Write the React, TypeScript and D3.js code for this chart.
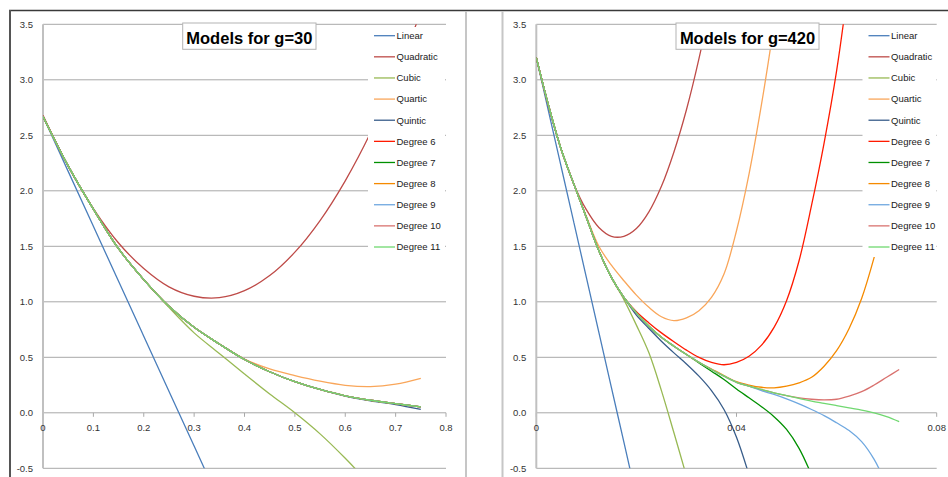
import React from 'react';
import * as d3 from 'd3';

const seriesNames = ['Linear', 'Quadratic', 'Cubic', 'Quartic', 'Quintic', 'Degree 6', 'Degree 7', 'Degree 8', 'Degree 9', 'Degree 10', 'Degree 11'];
const seriesColors = ['#4A7EBB', '#BE4B48', '#98B954', '#F9A65A', '#385D8A', '#FF1A00', '#009000', '#F58A00', '#6FA8E0', '#D9726F', '#70D870'];

const yTicks = [-0.5, 0, 0.5, 1, 1.5, 2, 2.5, 3, 3.5];
const yTickLabels = ['-0.5', '0.0', '0.5', '1.0', '1.5', '2.0', '2.5', '3.0', '3.5'];

const leftXTicks = [0, 0.1, 0.2, 0.3, 0.4, 0.5, 0.6, 0.7, 0.8];
const leftXTickLabels = ['0', '0.1', '0.2', '0.3', '0.4', '0.5', '0.6', '0.7', '0.8'];
const rightXTicks = [0, 0.04, 0.08];
const rightXTickLabels = ['0', '0.04', '0.08'];

// g = 30
const leftX = [0, 0.05, 0.1, 0.15, 0.2, 0.25, 0.3, 0.35, 0.4, 0.45, 0.5, 0.55, 0.6, 0.65, 0.7, 0.75];
const leftLinear = [2.67, 2.175, 1.68, 1.185, 0.69, 0.195, -0.3, -0.795];
const leftQuadratic = [2.68, 2.22, 1.84, 1.53, 1.3, 1.135, 1.05, 1.037, 1.1, 1.236, 1.447, 1.732, 2.09, 2.52, 3.03, 3.61];
const leftCubic = [2.67, 2.225, 1.835, 1.478, 1.2, 0.95, 0.72, 0.535, 0.35, 0.17, 0.0, -0.19, -0.41, -0.65];
const leftQuartic = [2.67, 2.225, 1.835, 1.478, 1.2, 0.96, 0.77, 0.62, 0.485, 0.395, 0.335, 0.285, 0.248, 0.236, 0.258, 0.31];
const leftQuintic = [2.67, 2.225, 1.835, 1.478, 1.2, 0.96, 0.77, 0.62, 0.48, 0.37, 0.28, 0.21, 0.15, 0.108, 0.073, 0.03];
const leftDeg6 = [2.67, 2.225, 1.835, 1.478, 1.2, 0.96, 0.77, 0.62, 0.48, 0.37, 0.28, 0.21, 0.153, 0.113, 0.082, 0.054];
const leftDeg7 = [2.67, 2.225, 1.835, 1.478, 1.2, 0.96, 0.77, 0.62, 0.48, 0.37, 0.28, 0.21, 0.153, 0.113, 0.082, 0.054];
const leftDeg8 = [2.67, 2.225, 1.835, 1.478, 1.2, 0.96, 0.77, 0.62, 0.48, 0.37, 0.28, 0.21, 0.153, 0.113, 0.082, 0.054];
const leftDeg9 = [2.67, 2.225, 1.835, 1.478, 1.2, 0.96, 0.77, 0.62, 0.48, 0.37, 0.28, 0.21, 0.153, 0.113, 0.082, 0.054];
const leftDeg10 = [2.67, 2.225, 1.835, 1.478, 1.2, 0.96, 0.77, 0.62, 0.48, 0.37, 0.28, 0.21, 0.153, 0.113, 0.082, 0.054];
const leftDeg11 = [2.67, 2.225, 1.835, 1.478, 1.2, 0.96, 0.77, 0.62, 0.48, 0.37, 0.28, 0.21, 0.153, 0.113, 0.082, 0.054];

// g = 420
const rightX = [0, 0.0025, 0.005, 0.0075, 0.01, 0.0125, 0.015, 0.0175, 0.02, 0.0225, 0.025, 0.0275, 0.03, 0.0325, 0.035, 0.0375, 0.04, 0.0425, 0.045, 0.0475, 0.05, 0.0525, 0.055, 0.0575, 0.06, 0.0625, 0.065, 0.0675, 0.07, 0.0725];
const rightLinear = [3.2, 2.705, 2.21, 1.715, 1.22, 0.725, 0.23, -0.265, -0.76];
const rightQuadratic = [3.2, 2.75, 2.37, 2.06, 1.83, 1.67, 1.59, 1.59, 1.66, 1.81, 2.04, 2.35, 2.73, 3.19, 3.73];
const rightCubic = [3.2, 2.76, 2.37, 2.06, 1.76, 1.46, 1.22, 1.02, 0.79, 0.54, 0.2, -0.18, -0.57];
const rightQuartic = [3.2, 2.76, 2.37, 2.06, 1.77, 1.5, 1.33, 1.19, 1.06, 0.95, 0.865, 0.83, 0.855, 0.92, 1.04, 1.25, 1.64, 2.15, 2.78, 3.5, 4.3];
const rightQuintic = [3.2, 2.76, 2.37, 2.06, 1.76, 1.46, 1.22, 1.04, 0.88, 0.76, 0.645, 0.54, 0.44, 0.33, 0.2, 0.03, -0.22, -0.56];
const rightDeg6 = [3.2, 2.76, 2.37, 2.06, 1.76, 1.46, 1.22, 1.04, 0.91, 0.81, 0.72, 0.64, 0.565, 0.5, 0.455, 0.433, 0.455, 0.51, 0.61, 0.77, 1.01, 1.37, 1.87, 2.43, 3.08, 3.9];
const rightDeg7 = [3.2, 2.76, 2.37, 2.06, 1.76, 1.46, 1.22, 1.04, 0.9, 0.78, 0.68, 0.6, 0.525, 0.45, 0.375, 0.3, 0.215, 0.135, 0.055, -0.035, -0.15, -0.32, -0.56];
const rightDeg8 = [3.2, 2.76, 2.37, 2.06, 1.76, 1.46, 1.22, 1.04, 0.9, 0.78, 0.68, 0.6, 0.525, 0.455, 0.395, 0.335, 0.28, 0.25, 0.23, 0.225, 0.24, 0.27, 0.32, 0.42, 0.56, 0.76, 1.03, 1.4, 1.85, 2.4];
const rightDeg9 = [3.2, 2.76, 2.37, 2.06, 1.76, 1.46, 1.22, 1.04, 0.9, 0.78, 0.68, 0.6, 0.525, 0.455, 0.39, 0.33, 0.275, 0.24, 0.2, 0.165, 0.125, 0.08, 0.03, -0.025, -0.09, -0.16, -0.26, -0.42, -0.65];
const rightDeg10 = [3.2, 2.76, 2.37, 2.06, 1.76, 1.46, 1.22, 1.04, 0.9, 0.78, 0.68, 0.6, 0.525, 0.455, 0.39, 0.33, 0.275, 0.24, 0.21, 0.18, 0.155, 0.135, 0.122, 0.116, 0.122, 0.15, 0.19, 0.25, 0.32, 0.39];
const rightDeg11 = [3.2, 2.76, 2.37, 2.06, 1.76, 1.46, 1.22, 1.04, 0.9, 0.78, 0.68, 0.6, 0.525, 0.455, 0.39, 0.33, 0.275, 0.24, 0.21, 0.18, 0.155, 0.13, 0.105, 0.085, 0.065, 0.045, 0.025, 0.0, -0.035, -0.08];

const leftSeries = [leftLinear, leftQuadratic, leftCubic, leftQuartic, leftQuintic, leftDeg6, leftDeg7, leftDeg8, leftDeg9, leftDeg10, leftDeg11];
const rightSeries = [rightLinear, rightQuadratic, rightCubic, rightQuartic, rightQuintic, rightDeg6, rightDeg7, rightDeg8, rightDeg9, rightDeg10, rightDeg11];

const FONT = "'Liberation Sans', Arial, sans-serif";
const Y_TOP = 24.3;
const Y_BOT = 468.3;

type PanelProps = {
  id: string;
  xs: number[];
  series: number[][];
  xDomain: [number, number];
  xRange: [number, number];
  xTicks: number[];
  xTickLabels: string[];
  title: string;
  titleBox: [number, number, number, number];
  legendBox: [number, number, number, number];
};

function Panel(p: PanelProps) {
  const x = d3.scaleLinear().domain(p.xDomain).range(p.xRange);
  const y = d3.scaleLinear().domain([-0.5, 3.5]).range([Y_BOT, Y_TOP]);
  const [x0, x1] = p.xRange;
  const line = d3
    .line<[number, number]>()
    .x((d) => x(d[0]))
    .y((d) => y(d[1]))
    .curve(d3.curveCatmullRom.alpha(0.5));
  const [lx, ly, lw, lh] = p.legendBox;
  const [tx, ty, tw, th] = p.titleBox;
  return (
    <g>
      <defs>
        <clipPath id={p.id}>
          <rect x={x0} y={Y_TOP} width={x1 - x0} height={Y_BOT - Y_TOP} />
        </clipPath>
      </defs>
      {yTicks.map((t) => (
        <line key={'g' + t} x1={x0} x2={x1} y1={y(t)} y2={y(t)} stroke="#A8A8A8" strokeWidth={1} />
      ))}
      {p.xTicks.map((t) => (
        <line key={'t' + t} x1={x(t)} x2={x(t)} y1={y(0)} y2={y(0) + 4} stroke="#A8A8A8" strokeWidth={1} />
      ))}
      <line x1={x0} x2={x0} y1={Y_TOP} y2={Y_BOT} stroke="#C0C0C0" strokeWidth={2} />
      {yTicks.map((t, i) => (
        <text key={'yl' + t} x={x0 - 10} y={y(t)} dy="0.35em" textAnchor="end" fontSize={9.5} fill="#333" fontFamily={FONT}>
          {yTickLabels[i]}
        </text>
      ))}
      <g clipPath={`url(#${p.id})`}>
        {p.series.map((s, i) => {
          const pts: [number, number][] = s.map((v, j) => [p.xs[j], v]);
          return <path key={'s' + i} d={line(pts) || ''} fill="none" stroke={seriesColors[i]} strokeWidth={1.3} />;
        })}
      </g>
      {p.xTicks.map((t, i) => (
        <text key={'xl' + t} x={x(t)} y={430.5} textAnchor="middle" fontSize={9.5} fill="#333" fontFamily={FONT}>
          {p.xTickLabels[i]}
        </text>
      ))}
      <rect x={lx} y={ly} width={lw} height={lh} fill="#fff" />
      {seriesNames.map((n, i) => {
        const cy = ly + 8.7 + i * 21.13;
        return (
          <g key={'lg' + n}>
            <line x1={lx + 6} x2={lx + 27} y1={cy} y2={cy} stroke={seriesColors[i]} strokeWidth={1.3} />
            <text x={lx + 28.5} y={cy} dy="0.35em" fontSize={9.5} fill="#1a1a1a" fontFamily={FONT}>
              {n}
            </text>
          </g>
        );
      })}
      <rect x={tx} y={ty} width={tw} height={th} fill="#fff" stroke="#B4B4B4" strokeWidth={1} />
      <text x={tx + tw / 2} y={ty + 20.5} textAnchor="middle" fontSize={16.5} fontWeight="bold" fill="#000" fontFamily={FONT}>
        {p.title}
      </text>
    </g>
  );
}

export default function App() {
  return (
    <svg width={948} height={477} style={{ position: 'absolute', left: 0, top: 0, background: '#fff' }}>
      <rect x={0} y={0} width={948} height={477} fill="#fff" />
      <Panel
        id="clipL"
        xs={leftX}
        series={leftSeries}
        xDomain={[0, 0.8]}
        xRange={[43, 446]}
        xTicks={leftXTicks}
        xTickLabels={leftXTickLabels}
        title="Models for g=30"
        titleBox={[182.7, 23, 133.3, 26.3]}
        legendBox={[368, 27, 77, 230]}
      />
      <Panel
        id="clipR"
        xs={rightX}
        series={rightSeries}
        xDomain={[0, 0.08]}
        xRange={[536.3, 936.7]}
        xTicks={rightXTicks}
        xTickLabels={rightXTickLabels}
        title="Models for g=420"
        titleBox={[676, 23, 143, 26.3]}
        legendBox={[862.5, 27, 73.5, 230]}
      />
      <line x1={9} x2={948} y1={10.5} y2={10.5} stroke="#3A3A3A" strokeWidth={1.6} />
      <line x1={10} x2={10} y1={10} y2={477} stroke="#555" strokeWidth={2} />
      <line x1={466} x2={466} y1={11} y2={477} stroke="#C6C6C6" strokeWidth={2} />
      <line x1={502.5} x2={502.5} y1={11} y2={477} stroke="#C6C6C6" strokeWidth={2} />
    </svg>
  );
}
